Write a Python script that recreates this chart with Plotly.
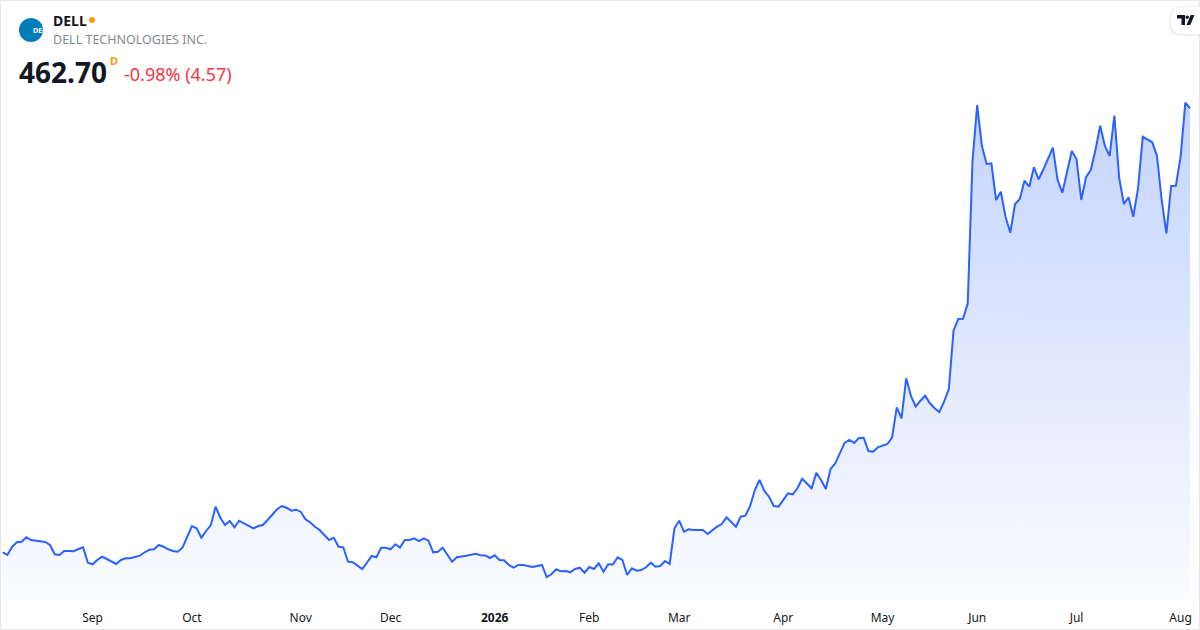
import pandas as pd
import plotly.graph_objects as go

# daily closes, 5 Aug 2025 -> 5 Aug 2026
closes = [
    107.50, 105.34, 111.98, 115.50, 115.98, 119.50, 117.34, 116.78, 115.98, 115.74,
    113.34, 105.90, 105.34, 108.54, 108.60, 108.40, 110.14, 111.50, 99.18, 97.90,
    101.34, 103.98, 102.14, 99.98, 98.14, 101.34, 102.70, 102.80, 103.98, 104.78,
    107.50, 109.58, 109.90, 113.34, 111.98, 109.90, 108.54, 107.98, 111.18, 119.98,
    128.54, 126.70, 119.18, 124.54, 129.34, 143.98, 135.18, 129.34, 132.54, 127.50,
    132.78, 130.70, 128.78, 126.70, 128.54, 129.34, 133.34, 137.90, 141.90, 144.54,
    143.18, 140.78, 141.58, 139.98, 133.90, 131.50, 127.98, 125.34, 121.34, 117.34,
    119.18, 111.98, 111.50, 99.98, 99.50, 96.54, 94.14, 99.18, 104.54, 103.50,
    111.18, 111.10, 109.90, 113.90, 111.30, 117.34, 117.40, 118.70, 116.54, 118.70,
    116.78, 107.50, 107.98, 111.18, 105.34, 99.98, 103.50, 103.98, 104.78, 105.58,
    106.38, 105.10, 105.00, 102.94, 105.10, 101.34, 101.10, 97.34, 95.18, 97.34,
    97.40, 96.54, 95.74, 96.54, 97.34, 87.74, 89.90, 93.90, 92.30, 92.54,
    91.50, 94.14, 95.18, 91.18, 95.74, 94.14, 98.70, 91.98, 97.90, 97.80,
    103.50, 101.34, 89.34, 94.70, 92.78, 93.34, 95.50, 99.18, 95.98, 96.54,
    100.54, 98.14, 126.70, 132.78, 123.98, 125.90, 125.34, 125.40, 125.30, 122.14,
    125.34, 127.98, 130.14, 135.50, 131.74, 127.98, 135.98, 136.78, 144.54, 157.34,
    165.34, 156.54, 151.98, 144.54, 143.98, 149.34, 154.70, 153.90, 158.70, 166.38,
    162.70, 158.70, 171.18, 165.34, 158.14, 174.14, 178.70, 186.70, 195.18, 197.34,
    194.94, 198.94, 199.18, 188.54, 187.98, 191.50, 192.78, 194.14, 199.18, 223.50,
    214.70, 246.70, 232.54, 223.98, 228.78, 232.78, 226.70, 222.70, 219.74, 227.98,
    237.90, 285.00, 294.14, 294.30, 306.50, 419.98, 465.34, 432.54, 418.14, 418.70,
    389.34, 395.98, 375.98, 363.18, 386.14, 390.14, 404.78, 399.98, 415.50, 405.90,
    413.90, 422.70, 431.18, 405.34, 395.18, 411.98, 428.54, 422.14, 389.34, 407.50,
    413.34, 429.34, 448.78, 432.54, 424.54, 456.78, 407.50, 386.14, 391.50, 375.98,
    398.70, 439.98, 437.90, 435.50, 424.78, 389.34, 362.70, 400.54, 400.78, 423.98,
    467.27, 462.70,
]

holidays = ["2025-09-01", "2025-11-27", "2025-12-25", "2026-01-01", "2026-01-19",
            "2026-02-16", "2026-04-03", "2026-05-25", "2026-06-19", "2026-07-03"]
dates = [d for d in pd.bdate_range("2025-08-05", "2026-08-05")
         if d.strftime("%Y-%m-%d") not in holidays]
assert len(dates) == len(closes), (len(dates), len(closes))
date_labels = [d.strftime("%Y-%m-%d") for d in dates]

tick_labels = ["Sep", "Oct", "Nov", "Dec", "<b>2026</b>", "Feb", "Mar",
               "Apr", "May", "Jun", "Jul", "Aug"]

# first trading day of each month after the first one
tick_vals = []
seen = set()
for d in dates:
    key = (d.year, d.month)
    if key not in seen:
        seen.add(key)
        tick_vals.append(d.strftime("%Y-%m-%d"))
tick_vals = tick_vals[1:]

W, H = 1200, 630
TOP, BOTTOM = 90, 600
Y_MIN, Y_MAX = 69.34, 477.34
LINE = "#2962FF"


def px(x):
    return x / W


def py(y):
    return (BOTTOM - y) / (BOTTOM - TOP)


def pill(x0, x1, y0, y1, r):
    # rounded-left box, open to the right edge
    return (f"M {px(x1)},{py(y0)} L {px(x0 + r)},{py(y0)} "
            f"Q {px(x0)},{py(y0)} {px(x0)},{py(y0 + r)} "
            f"L {px(x0)},{py(y1 - r)} Q {px(x0)},{py(y1)} {px(x0 + r)},{py(y1)} "
            f"L {px(x1)},{py(y1)} Z")


fig = go.Figure()
fig.add_trace(go.Scatter(
    x=date_labels, y=closes, mode="lines",
    line=dict(color=LINE, width=2),
    fill="tozeroy",
    fillgradient=dict(type="vertical",
                      colorscale=[[0, "rgba(41,98,255,0.02)"], [1, "rgba(41,98,255,0.28)"]],
                      start=Y_MIN, stop=Y_MAX),
    hoverinfo="skip", showlegend=False,
))

font = "Noto Sans"
annos = [
    dict(x=px(51), y=py(20), text="<b>DELL</b>", font=dict(size=14, color="#131722"), xanchor="left"),
    dict(x=px(51), y=py(40), text="DELL TECHNOLOGIES INC.", font=dict(size=12.5, color="#868993"), xanchor="left"),
    dict(x=px(17), y=py(72), text="<b>462.70</b>", font=dict(size=28, color="#131722"), xanchor="left"),
    dict(x=px(108), y=py(61), text="<b>D</b>", font=dict(size=11, color="#FF9800"), xanchor="left"),
    dict(x=px(122), y=py(74), text="-0.98% (4.57)", font=dict(size=18, color="#F23645"), xanchor="left"),
    dict(x=px(31), y=py(30.5), text="<b>DELL</b>", font=dict(size=7, color="white")),
]
for a in annos:
    a.update(xref="paper", yref="paper", showarrow=False, yanchor="middle")
    a["font"]["family"] = font
    fig.add_annotation(**a)

shapes = [
    # outer frame
    dict(type="rect", x0=px(0.5), x1=px(1199.5), y0=py(629.5), y1=py(0.5),
         line=dict(color="#e6e8ee", width=1), fillcolor="rgba(0,0,0,0)"),
    # company logo
    dict(type="circle", x0=px(19), x1=px(43), y0=py(42), y1=py(18),
         line=dict(width=0), fillcolor="#007DB8"),
    # live dot
    dict(type="circle", x0=px(89), x1=px(95), y0=py(23), y1=py(17),
         line=dict(width=0), fillcolor="#FF9800"),
    # tradingview badge: soft shadow, then white pill
    dict(type="path", path=pill(1169, 1205, 6, 36, 13),
         line=dict(width=0), fillcolor="rgba(0,0,0,0.06)"),
    dict(type="path", path=pill(1171, 1205, 7, 34, 12),
         line=dict(width=0), fillcolor="white"),
    dict(type="path", path=f"M {px(1177)},{py(15)} L {px(1185)},{py(15)} L {px(1185)},{py(25)} "
         f"L {px(1181.5)},{py(25)} L {px(1181.5)},{py(18.5)} L {px(1177)},{py(18.5)} Z",
         line=dict(width=0), fillcolor="#131722"),
    dict(type="circle", x0=px(1185.5), x1=px(1189), y0=py(19), y1=py(15.5),
         line=dict(width=0), fillcolor="#131722"),
    dict(type="path", path=f"M {px(1186.5)},{py(25)} L {px(1190.3)},{py(25)} L {px(1194.5)},{py(15)} "
         f"L {px(1190.7)},{py(15)} Z",
         line=dict(width=0), fillcolor="#131722"),
]
for s in shapes:
    s.update(xref="paper", yref="paper", layer="above")
    fig.add_shape(**s)

n = len(closes)
fig.update_layout(
    width=W, height=H,
    margin=dict(l=0, r=0, t=TOP, b=H - BOTTOM),
    paper_bgcolor="white", plot_bgcolor="white",
    font=dict(family=font, color="#131722", size=12),
    xaxis=dict(type="category", range=[-0.57, n + 1.1],
               tickvals=tick_vals, ticktext=tick_labels,
               showgrid=False, zeroline=False, showline=False,
               ticks="outside", ticklen=7, tickcolor="rgba(0,0,0,0)",
               tickfont=dict(size=12, color="#131722")),
    yaxis=dict(range=[Y_MIN, Y_MAX], visible=False, showgrid=False, zeroline=False),
)

# drop the page's default body margin so the figure sits at the window's corner
fig.write_html("out.html", config={"displayModeBar": False},
               post_script="document.body.style.margin='0';")
